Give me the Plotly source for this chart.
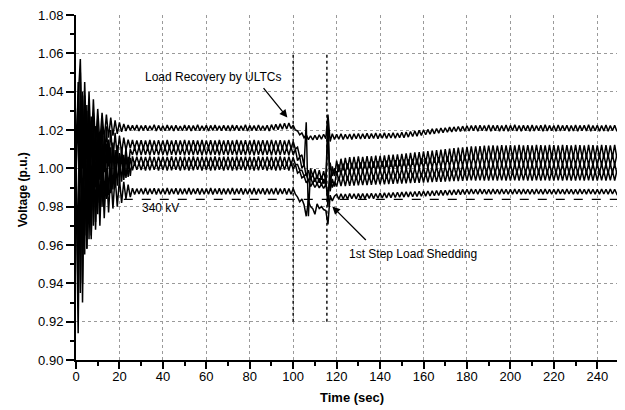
import numpy as np
import plotly.graph_objects as go

# Bus voltages read from the chart, sampled every 1 s (t = 0 ... 250 s),
# stored in units of 1e-4 p.u. (10210 -> 1.0210 p.u.)
bus_1 = [
    10150, 10350, 10570, 10000, 10450, 10050, 10400, 10080, 10360, 10110,
    10310, 10130, 10290, 10150, 10280, 10160, 10265, 10170, 10250, 10180,
    10240, 10190, 10232, 10195, 10226, 10198, 10224, 10197, 10226, 10195,
    10223, 10198, 10225, 10196, 10222, 10199, 10227, 10195, 10224, 10197,
    10222, 10196, 10226, 10198, 10223, 10195, 10225, 10197, 10221, 10196,
    10226, 10198, 10224, 10195, 10223, 10197, 10227, 10196, 10222, 10198,
    10225, 10195, 10224, 10197, 10226, 10198, 10222, 10196, 10225, 10197,
    10223, 10195, 10226, 10198, 10224, 10196, 10222, 10197, 10227, 10195,
    10224, 10198, 10223, 10196, 10226, 10197, 10222, 10198, 10225, 10195,
    10228, 10200, 10230, 10202, 10232, 10204, 10235, 10205, 10236, 10208,
    10225, 10200, 10195, 10175, 10185, 10160, 10175, 10150, 10170, 10148,
    10172, 10150, 10175, 10152, 10178, 10155, 10280, 10140, 10180, 10150,
    10178, 10152, 10180, 10150, 10177, 10153, 10179, 10151, 10180, 10154,
    10182, 10153, 10180, 10155, 10183, 10154, 10181, 10156, 10184, 10155,
    10182, 10157, 10185, 10156, 10183, 10158, 10186, 10157, 10184, 10160,
    10188, 10160, 10190, 10163, 10192, 10166, 10195, 10168, 10198, 10172,
    10200, 10175, 10203, 10178, 10206, 10180, 10208, 10183, 10210, 10186,
    10212, 10188, 10215, 10190, 10216, 10192, 10218, 10193, 10220, 10194,
    10222, 10195, 10223, 10196, 10224, 10194, 10225, 10196, 10223, 10195,
    10226, 10194, 10224, 10196, 10225, 10193, 10223, 10195, 10226, 10194,
    10224, 10196, 10227, 10195, 10223, 10194, 10225, 10196, 10224, 10193,
    10226, 10195, 10223, 10196, 10225, 10194, 10227, 10195, 10224, 10196,
    10223, 10194, 10226, 10195, 10224, 10196, 10225, 10193, 10223, 10195,
    10226, 10194, 10224, 10196, 10225, 10195, 10227, 10194, 10223, 10196,
    10225, 10193, 10224, 10195, 10226, 10194, 10223, 10196, 10225, 10194,
    10210,
]
bus_2 = [
    10050, 9600, 10450, 9700, 10380, 9800, 10320, 9850, 10290, 9900,
    10260, 9940, 10240, 9980, 10220, 10010, 10200, 10040, 10185, 10060,
    10170, 10080, 10160, 10095, 10150, 10105, 10148, 10104, 10146, 10106,
    10147, 10103, 10145, 10105, 10148, 10102, 10146, 10104, 10147, 10106,
    10145, 10103, 10148, 10105, 10146, 10104, 10147, 10102, 10145, 10106,
    10148, 10104, 10146, 10103, 10147, 10105, 10145, 10104, 10148, 10102,
    10146, 10106, 10147, 10103, 10145, 10105, 10148, 10104, 10146, 10102,
    10147, 10105, 10145, 10103, 10148, 10106, 10146, 10104, 10147, 10103,
    10145, 10105, 10148, 10102, 10146, 10106, 10147, 10104, 10145, 10103,
    10148, 10105, 10146, 10104, 10147, 10102, 10145, 10106, 10148, 10104,
    10140, 10100, 10110, 10060, 10070, 10010, 10240, 9750, 10000, 9960,
    9995, 9945, 9990, 9940, 9985, 9935, 10250, 9900, 10010, 9960,
    10040, 9980, 10050, 9990, 10055, 9995, 10058, 9998, 10060, 10000,
    10062, 10000, 10060, 10002, 10064, 10001, 10063, 10003, 10066, 10004,
    10065, 10006, 10068, 10007, 10070, 10008, 10071, 10010, 10073, 10012,
    10075, 10014, 10078, 10016, 10080, 10018, 10083, 10020, 10085, 10022,
    10088, 10024, 10090, 10026, 10093, 10028, 10095, 10030, 10098, 10032,
    10100, 10034, 10103, 10036, 10105, 10038, 10108, 10040, 10110, 10042,
    10112, 10044, 10114, 10046, 10115, 10048, 10116, 10050, 10118, 10052,
    10118, 10054, 10120, 10055, 10119, 10056, 10121, 10055, 10120, 10056,
    10121, 10055, 10120, 10057, 10122, 10056, 10120, 10055, 10121, 10057,
    10120, 10056, 10122, 10055, 10121, 10057, 10120, 10056, 10122, 10055,
    10121, 10057, 10120, 10056, 10122, 10055, 10121, 10057, 10120, 10056,
    10122, 10055, 10121, 10057, 10120, 10056, 10122, 10055, 10121, 10057,
    10120, 10056, 10122, 10055, 10121, 10057, 10120, 10056, 10122, 10055,
    10088,
]
bus_3 = [
    9950, 10300, 9550, 10380, 9650, 10300, 9720, 10250, 9780, 10220,
    9820, 10190, 9860, 10170, 9890, 10150, 9920, 10135, 9945, 10120,
    9965, 10110, 9980, 10105, 9995, 10100, 10070, 10110, 10068, 10112,
    10069, 10111, 10071, 10109, 10068, 10112, 10070, 10110, 10069, 10111,
    10071, 10109, 10068, 10112, 10070, 10110, 10069, 10111, 10071, 10109,
    10068, 10112, 10070, 10110, 10069, 10111, 10071, 10109, 10068, 10112,
    10070, 10110, 10069, 10111, 10071, 10109, 10068, 10112, 10070, 10110,
    10069, 10111, 10071, 10109, 10068, 10112, 10070, 10110, 10069, 10111,
    10071, 10109, 10068, 10112, 10070, 10110, 10069, 10111, 10071, 10109,
    10068, 10112, 10070, 10110, 10069, 10111, 10071, 10109, 10068, 10112,
    10070, 10100, 10040, 10060, 10000, 10020, 9960, 9990, 9940, 9970,
    9930, 9965, 9925, 9960, 9920, 9955, 9800, 10030, 9960, 10000,
    9965, 10020, 9970, 10025, 9972, 10026, 9974, 10028, 9975, 10030,
    9977, 10031, 9978, 10033, 9980, 10034, 9981, 10036, 9983, 10037,
    9984, 10038, 9986, 10040, 9987, 10041, 9989, 10043, 9990, 10044,
    9992, 10046, 9993, 10047, 9995, 10049, 9996, 10050, 9998, 10052,
    9999, 10053, 10001, 10055, 10002, 10056, 10004, 10058, 10005, 10059,
    10007, 10061, 10008, 10062, 10010, 10064, 10011, 10065, 10012, 10066,
    10013, 10067, 10014, 10068, 10015, 10069, 10015, 10070, 10016, 10070,
    10016, 10071, 10017, 10070, 10016, 10071, 10017, 10070, 10016, 10071,
    10017, 10070, 10016, 10071, 10017, 10070, 10016, 10071, 10017, 10070,
    10016, 10071, 10017, 10070, 10016, 10071, 10017, 10070, 10016, 10071,
    10017, 10070, 10016, 10071, 10017, 10070, 10016, 10071, 10017, 10070,
    10016, 10071, 10017, 10070, 10016, 10071, 10017, 10070, 10016, 10071,
    10017, 10070, 10016, 10071, 10017, 10070, 10016, 10071, 10017, 10070,
    10043,
]
bus_4 = [
    10000, 9300, 10500, 9400, 10350, 9580, 10280, 9650, 10230, 9720,
    10180, 9780, 10150, 9820, 10130, 9860, 10110, 9890, 10095, 9910,
    10080, 9930, 10070, 9950, 10060, 9960, 10062, 10020, 10060, 10022,
    10061, 10019, 10059, 10021, 10062, 10020, 10060, 10018, 10061, 10021,
    10061, 10019, 10059, 10021, 10062, 10020, 10060, 10018, 10061, 10021,
    10061, 10019, 10059, 10021, 10062, 10020, 10060, 10018, 10061, 10021,
    10061, 10019, 10059, 10021, 10062, 10020, 10060, 10018, 10061, 10021,
    10061, 10019, 10059, 10021, 10062, 10020, 10060, 10018, 10061, 10021,
    10061, 10019, 10059, 10021, 10062, 10020, 10060, 10018, 10061, 10021,
    10061, 10019, 10059, 10021, 10062, 10020, 10060, 10018, 10061, 10021,
    10055, 10020, 10020, 9990, 9990, 9960, 9970, 9935, 9955, 9920,
    9950, 9915, 9948, 9912, 9945, 9910, 10200, 9880, 9945, 9905,
    9985, 9935, 9987, 9937, 9988, 9938, 9990, 9940, 9990, 9940,
    9991, 9941, 9992, 9942, 9993, 9943, 9994, 9944, 9995, 9945,
    9996, 9946, 9997, 9947, 9998, 9948, 9999, 9949, 10000, 9950,
    10001, 9951, 10002, 9952, 10003, 9953, 10004, 9954, 10005, 9955,
    10006, 9956, 10008, 9958, 10009, 9959, 10010, 9960, 10012, 9962,
    10013, 9963, 10014, 9964, 10016, 9966, 10017, 9967, 10018, 9968,
    10019, 9969, 10020, 9970, 10021, 9971, 10022, 9972, 10023, 9973,
    10024, 9974, 10025, 9975, 10024, 9974, 10025, 9975, 10024, 9974,
    10024, 9974, 10025, 9975, 10024, 9974, 10025, 9975, 10024, 9974,
    10024, 9974, 10025, 9975, 10024, 9974, 10025, 9975, 10024, 9974,
    10024, 9974, 10025, 9975, 10024, 9974, 10025, 9975, 10024, 9974,
    10024, 9974, 10025, 9975, 10024, 9974, 10025, 9975, 10024, 9974,
    10024, 9974, 10025, 9975, 10024, 9974, 10025, 9975, 10024, 9974,
    10000,
]
bus_5 = [
    9980, 10450, 9350, 10400, 9550, 10330, 9630, 10270, 9700, 10220,
    9760, 10180, 9800, 10150, 9840, 10130, 9870, 10110, 9900, 10090,
    9920, 10075, 9940, 10065, 9955, 10055, 9990, 10030, 9992, 10028,
    9991, 10029, 9989, 10031, 9990, 10030, 9992, 10028, 9989, 10031,
    9991, 10029, 9989, 10031, 9990, 10030, 9992, 10028, 9989, 10031,
    9991, 10029, 9989, 10031, 9990, 10030, 9992, 10028, 9989, 10031,
    9991, 10029, 9989, 10031, 9990, 10030, 9992, 10028, 9989, 10031,
    9991, 10029, 9989, 10031, 9990, 10030, 9992, 10028, 9989, 10031,
    9991, 10029, 9989, 10031, 9990, 10030, 9992, 10028, 9989, 10031,
    9991, 10029, 9989, 10031, 9990, 10030, 9992, 10028, 9989, 10031,
    9995, 10020, 9975, 9985, 9950, 9960, 9925, 9940, 9905, 9925,
    9900, 9920, 9898, 9918, 9895, 9915, 9860, 9960, 9900, 9930,
    9905, 9955, 9907, 9957, 9908, 9958, 9909, 9959, 9910, 9960,
    9911, 9961, 9912, 9962, 9913, 9963, 9914, 9964, 9915, 9965,
    9916, 9966, 9917, 9967, 9918, 9968, 9919, 9969, 9920, 9970,
    9921, 9971, 9922, 9972, 9923, 9973, 9924, 9974, 9925, 9975,
    9926, 9976, 9927, 9977, 9928, 9978, 9929, 9979, 9930, 9980,
    9931, 9981, 9932, 9982, 9933, 9983, 9934, 9984, 9935, 9985,
    9936, 9986, 9937, 9987, 9936, 9986, 9937, 9987, 9936, 9986,
    9936, 9986, 9937, 9987, 9936, 9986, 9937, 9987, 9936, 9986,
    9936, 9986, 9937, 9987, 9936, 9986, 9937, 9987, 9936, 9986,
    9936, 9986, 9937, 9987, 9936, 9986, 9937, 9987, 9936, 9986,
    9936, 9986, 9937, 9987, 9936, 9986, 9937, 9987, 9936, 9986,
    9936, 9986, 9937, 9987, 9936, 9986, 9937, 9987, 9936, 9986,
    9936, 9986, 9937, 9987, 9936, 9986, 9937, 9987, 9936, 9986,
    9961,
]
bus_6 = [
    9950, 9140, 10300, 9300, 10200, 9580, 10150, 9630, 10100, 9680,
    10060, 9700, 10030, 9740, 10000, 9770, 9980, 9790, 9960, 9800,
    9945, 9820, 9930, 9840, 9915, 9850, 9896, 9864, 9894, 9866,
    9895, 9865, 9897, 9863, 9894, 9866, 9896, 9864, 9895, 9865,
    9895, 9865, 9897, 9863, 9894, 9866, 9896, 9864, 9895, 9865,
    9895, 9865, 9897, 9863, 9894, 9866, 9896, 9864, 9895, 9865,
    9895, 9865, 9897, 9863, 9894, 9866, 9896, 9864, 9895, 9865,
    9895, 9865, 9897, 9863, 9894, 9866, 9896, 9864, 9895, 9865,
    9895, 9865, 9897, 9863, 9894, 9866, 9896, 9864, 9895, 9865,
    9895, 9865, 9897, 9863, 9894, 9866, 9896, 9864, 9895, 9865,
    9895, 9865, 9850, 9825, 9840, 9810, 9750, 9830, 9800, 9790,
    9760, 9815, 9790, 9800, 9785, 9780, 9707, 9860, 9830, 9855,
    9865, 9838, 9867, 9840, 9866, 9839, 9868, 9841, 9867, 9840,
    9868, 9842, 9869, 9841, 9868, 9843, 9870, 9842, 9869, 9844,
    9871, 9845, 9872, 9846, 9873, 9847, 9874, 9848, 9875, 9849,
    9876, 9850, 9877, 9851, 9878, 9852, 9879, 9853, 9880, 9854,
    9881, 9855, 9882, 9856, 9883, 9857, 9884, 9858, 9885, 9859,
    9886, 9860, 9887, 9861, 9888, 9862, 9889, 9863, 9890, 9864,
    9891, 9865, 9892, 9866, 9891, 9865, 9892, 9866, 9891, 9865,
    9891, 9865, 9892, 9866, 9891, 9865, 9892, 9866, 9891, 9865,
    9891, 9865, 9892, 9866, 9891, 9865, 9892, 9866, 9891, 9865,
    9891, 9865, 9892, 9866, 9891, 9865, 9892, 9866, 9891, 9865,
    9891, 9865, 9892, 9866, 9891, 9865, 9892, 9866, 9891, 9865,
    9891, 9865, 9892, 9866, 9891, 9865, 9892, 9866, 9891, 9865,
    9891, 9865, 9892, 9866, 9891, 9865, 9892, 9866, 9891, 9865,
    9878,
]
series = [bus_1, bus_2, bus_3, bus_4, bus_5, bus_6]

limit_340kv = 0.9838          # dashed 340 kV level
limit_span = [22, 250]        # time span of the dashed line
event_times = [100, 115.5]    # vertical markers (ULTC / 1st step shedding)
event_vspan = [0.92, 1.06]

x_ticks = list(range(0, 260, 20))
y_ticks = [0.90, 0.92, 0.94, 0.96, 0.98, 1.00, 1.02, 1.04, 1.06, 1.08]

FONT = "Liberation Sans, Arial, sans-serif"

fig = go.Figure()

# vertical event markers
for te in event_times:
    fig.add_trace(go.Scatter(x=[te, te], y=event_vspan, mode="lines",
                             line=dict(color="#222", width=1.6, dash="dot"),
                             hoverinfo="skip", showlegend=False))

# 340 kV dashed level
fig.add_trace(go.Scatter(x=limit_span, y=[limit_340kv, limit_340kv], mode="lines",
                         line=dict(color="black", width=1.3, dash="dash"),
                         showlegend=False))

for s in series:
    v = np.array(s) / 1e4
    fig.add_trace(go.Scatter(x=np.arange(len(v)), y=v, mode="lines",
                             line=dict(color="black", width=1.5),
                             showlegend=False))

annotations = [
    dict(text="Load Recovery by ULTCs", x=63.2, y=1.0479, xref="x", yref="y", showarrow=False),
    dict(text="1st Step Load Shedding", x=155.2, y=0.9551, xref="x", yref="y", showarrow=False),
    dict(text="340 kV", x=38.9, y=0.9791, xref="x", yref="y", showarrow=False),
    dict(text="", x=97.3, y=1.0265, xref="x", yref="y", showarrow=True, ax=-25, ay=-31,
         arrowhead=2, arrowsize=1.2, arrowwidth=1.3, arrowcolor="black"),
    dict(text="", x=118.0, y=0.9801, xref="x", yref="y", showarrow=True, ax=35, ay=35,
         arrowhead=2, arrowsize=1.2, arrowwidth=1.3, arrowcolor="black"),
    # axis titles
    dict(text="<b>Time (sec)</b>", x=0.5085, y=-0.1085, xref="paper", yref="paper",
         xanchor="center", yanchor="middle",
         showarrow=False, font=dict(family=FONT, size=13, color="black")),
    dict(text="<b>Voltage (p.u.)</b>", x=-0.0984, y=0.4935, xref="paper", yref="paper",
         xanchor="center", yanchor="middle",
         showarrow=False, textangle=-90, font=dict(family=FONT, size=12, color="black")),
]
for a in annotations:
    a.setdefault("font", dict(family=FONT, size=12, color="black"))
    fig.add_annotation(**a)

# the page body adds an 8 px margin, so the figure is sized to fit inside it
fig.update_layout(
    width=617, height=402,
    margin=dict(l=67.5, r=5.7, t=7, b=49.5, autoexpand=False),
    paper_bgcolor="white", plot_bgcolor="white",
    font=dict(family=FONT, size=13, color="black"),
    showlegend=False,
)
fig.update_xaxes(
    range=[0, 250], tickvals=x_ticks,
    showline=True, linecolor="black", linewidth=2,
    ticks="outside", ticklen=7, tickwidth=1.5, tickcolor="black",
    minor=dict(dtick=10, ticks="outside", ticklen=4, tickwidth=1.5, tickcolor="black", showgrid=False),
    showgrid=True, gridcolor="#9a9a9a", gridwidth=1, griddash="dot",
    zeroline=False, automargin=False, ticklabeloverflow="allow",
    ticklabelstandoff=-4,
    tickfont=dict(size=13),
)
fig.update_yaxes(
    range=[0.90, 1.08], tickvals=y_ticks, tickformat=".2f",
    showline=True, linecolor="black", linewidth=2,
    ticks="outside", ticklen=8, tickwidth=1.5, tickcolor="black",
    minor=dict(dtick=0.01, ticks="outside", ticklen=4, tickwidth=1.5, tickcolor="black", showgrid=False),
    showgrid=True, gridcolor="#9a9a9a", gridwidth=1, griddash="dot",
    zeroline=False, automargin=False, ticklabeloverflow="allow",
    tickfont=dict(size=13),
)

fig.write_html("out.html")
